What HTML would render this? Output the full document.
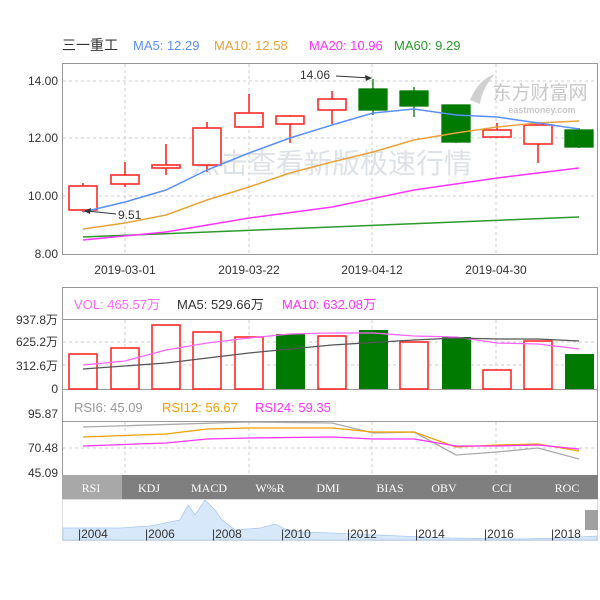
<!DOCTYPE html>
<html><head><meta charset="utf-8"><style>
html,body{margin:0;padding:0;background:#fff;}
svg{display:block;font-family:"Liberation Sans","Noto Sans CJK SC",sans-serif;}
</style></head><body>
<svg width="600" height="600" viewBox="0 0 600 600" xmlns="http://www.w3.org/2000/svg">
<rect width="600" height="600" fill="#fff"/>
<text x="62" y="50" font-size="14" fill="#333">三一重工</text>
<text x="133" y="50" font-size="13" fill="#5b8ff9">MA5: 12.29</text>
<text x="214" y="50" font-size="13" fill="#e8a33a">MA10: 12.58</text>
<text x="309" y="50" font-size="13" fill="#ff33ff">MA20: 10.96</text>
<text x="394" y="50" font-size="13" fill="#2a9a2a">MA60: 9.29</text>
<rect x="62.5" y="63.5" width="535" height="191" fill="#fff" stroke="#999"/>
<g stroke="#ccc" stroke-dasharray="3,3">
<line x1="63" y1="81" x2="597" y2="81"/><line x1="63" y1="138" x2="597" y2="138"/><line x1="63" y1="196" x2="597" y2="196"/>
<line x1="125" y1="64" x2="125" y2="254"/><line x1="249" y1="64" x2="249" y2="254"/><line x1="372" y1="64" x2="372" y2="254"/><line x1="496" y1="64" x2="496" y2="254"/>
</g>
<g font-size="12" fill="#333" text-anchor="end">
<text x="58" y="85">14.00</text><text x="58" y="142">12.00</text><text x="58" y="200">10.00</text><text x="58" y="258">8.00</text>
</g>
<g font-size="12" fill="#333" text-anchor="middle">
<text x="125" y="274">2019-03-01</text><text x="249" y="274">2019-03-22</text><text x="372" y="274">2019-04-12</text><text x="496" y="274">2019-04-30</text>
</g>
<text x="332" y="173" font-size="28" fill="#dce2e8" text-anchor="middle">点击查看新版极速行情</text>
<text x="540" y="99" font-size="19" fill="#c8c8c8" text-anchor="middle">东方财富网</text>
<text x="542" y="113" font-size="9" fill="#c8c8c8" text-anchor="middle" font-weight="bold">eastmoney.com</text>
<path d="M470 100 Q478 80 495 74 Q482 88 480 104 Z" fill="#d0d0d0"/>
<g stroke="#ff2a2a" fill="#fff" stroke-width="1.6">
<line x1="83" y1="183" x2="83" y2="212"/><rect x="69" y="186" width="28" height="24"/>
<line x1="125" y1="162" x2="125" y2="187"/><rect x="111" y="175" width="28" height="9"/>
<line x1="166" y1="144" x2="166" y2="175"/><rect x="152" y="165" width="28" height="3"/>
<line x1="207" y1="122" x2="207" y2="172"/><rect x="193" y="128" width="28" height="37"/>
<line x1="249" y1="94" x2="249" y2="127"/><rect x="235" y="113" width="28" height="14"/>
<line x1="290" y1="115" x2="290" y2="143"/><rect x="276" y="116" width="28" height="8"/>
<line x1="332" y1="91" x2="332" y2="124"/><rect x="318" y="99" width="28" height="11"/>
<line x1="497" y1="123" x2="497" y2="138"/><rect x="483" y="130" width="28" height="7"/>
<line x1="538" y1="125" x2="538" y2="163"/><rect x="524" y="125" width="28" height="19"/>
</g>
<g stroke="#007a00" fill="#007a00" stroke-width="1.3">
<line x1="373" y1="79" x2="373" y2="115"/><rect x="359" y="89" width="28" height="21"/>
<line x1="414" y1="87" x2="414" y2="117"/><rect x="400" y="91" width="28" height="15"/>
<line x1="456" y1="105" x2="456" y2="143"/><rect x="442" y="105" width="28" height="37"/>
<line x1="579" y1="128" x2="579" y2="148"/><rect x="565" y="130" width="28" height="17"/>
</g>
<polyline fill="none" stroke="#2a9a2a" stroke-width="1.5" points="83,237 579,217"/>
<polyline fill="none" stroke="#ff33ff" stroke-width="1.5" points="83,240 166,232 249,218 332,207 414,190 497,178 579,168"/>
<polyline fill="none" stroke="#e8a33a" stroke-width="1.5" points="83,229 125,223 166,215 207,200 249,187 290,173 332,162 373,152 414,140 456,133 497,127 538,123 579,121"/>
<polyline fill="none" stroke="#5b8ff9" stroke-width="1.5" points="83,212 125,202 166,190 207,170 249,153 290,138 332,125 373,113 414,109 456,115 497,117 538,123 579,129"/>
<text x="300" y="79" font-size="12" fill="#333">14.06</text>
<line x1="336" y1="76" x2="370" y2="78" stroke="#333"/><path d="M372 78 L365 75 L366 81 Z" fill="#333"/>
<text x="118" y="219" font-size="12" fill="#333">9.51</text>
<line x1="116" y1="214" x2="87" y2="211" stroke="#333"/><path d="M84 211 L91 208 L90 214 Z" fill="#333"/>
<rect x="62.5" y="287.5" width="535" height="188" fill="none" stroke="#999"/>
<line x1="63" y1="319.5" x2="597" y2="319.5" stroke="#999"/>
<line x1="63" y1="389.5" x2="597" y2="389.5" stroke="#999"/>
<line x1="63" y1="421.5" x2="597" y2="421.5" stroke="#999"/>
<text x="74" y="309" font-size="13" fill="#ff66ff">VOL: 465.57万</text>
<text x="177" y="309" font-size="13" fill="#333">MA5: 529.66万</text>
<text x="282" y="309" font-size="13" fill="#ff33ff">MA10: 632.08万</text>
<g stroke="#ccc" stroke-dasharray="3,3">
<line x1="63" y1="342" x2="597" y2="342"/><line x1="63" y1="365" x2="597" y2="365"/>
<line x1="125" y1="320" x2="125" y2="389"/><line x1="249" y1="320" x2="249" y2="389"/><line x1="372" y1="320" x2="372" y2="389"/><line x1="496" y1="320" x2="496" y2="389"/>
<line x1="63" y1="448" x2="597" y2="448"/>
<line x1="125" y1="422" x2="125" y2="475"/><line x1="249" y1="422" x2="249" y2="475"/><line x1="372" y1="422" x2="372" y2="475"/><line x1="496" y1="422" x2="496" y2="475"/>
</g>
<g font-size="12" fill="#333" text-anchor="end">
<text x="58" y="324">937.8万</text><text x="58" y="346">625.2万</text><text x="58" y="370">312.6万</text><text x="58" y="393">0</text>
<text x="58" y="418">95.87</text><text x="58" y="452">70.48</text><text x="58" y="477">45.09</text>
</g>
<g stroke="#ff2a2a" fill="#fff" stroke-width="1.6">
<rect x="69" y="354" width="28" height="35"/><rect x="111" y="348" width="28" height="41"/><rect x="152" y="325" width="28" height="64"/>
<rect x="193" y="332" width="28" height="57"/><rect x="235" y="337" width="28" height="52"/><rect x="318" y="336" width="28" height="53"/>
<rect x="400" y="342" width="28" height="47"/><rect x="483" y="370" width="28" height="19"/><rect x="524" y="341" width="28" height="48"/>
</g>
<g fill="#007a00">
<rect x="276" y="334" width="29" height="55"/><rect x="359" y="330" width="29" height="59"/><rect x="442" y="337" width="29" height="52"/><rect x="565" y="354" width="29" height="35"/>
</g>
<polyline fill="none" stroke="#ff66ff" stroke-width="1.3" points="83,365 125,361 166,350 207,343 249,338 290,334 332,333 373,333 414,336 456,337 497,343 538,344 579,349"/>
<polyline fill="none" stroke="#555" stroke-width="1.3" points="83,369 166,363 249,353 332,345 414,340 456,338 497,339 538,339 579,341"/>
<text x="74" y="412" font-size="13" fill="#999">RSI6: 45.09</text>
<text x="162" y="412" font-size="13" fill="#f0a000">RSI12: 56.67</text>
<text x="255" y="412" font-size="13" fill="#ff33ff">RSI24: 59.35</text>
<polyline fill="none" stroke="#aaa" stroke-width="1.3" points="83,427 249,422 332,423 373,433 414,432 456,455 497,452 538,448 579,459"/>
<polyline fill="none" stroke="#f0a000" stroke-width="1.3" points="83,437 166,434 207,429 249,428 332,428 373,432 414,432 456,447 497,445 538,444 579,451"/>
<polyline fill="none" stroke="#ff33ff" stroke-width="1.3" points="83,446 166,443 207,439 249,438 332,437 373,439 414,439 456,446 497,446 538,445 579,449"/>
<rect x="62" y="475" width="536" height="24" fill="#7f7f7f"/>
<rect x="62" y="475" width="60" height="24" fill="#a8a8a8"/>
<g font-family="Liberation Serif,serif" font-size="12" fill="#fff" text-anchor="middle">
<text x="91" y="492">RSI</text><text x="149" y="492">KDJ</text><text x="209" y="492">MACD</text><text x="270" y="492">W%R</text><text x="328" y="492">DMI</text><text x="390" y="492">BIAS</text><text x="444" y="492">OBV</text><text x="502" y="492">CCI</text><text x="567" y="492">ROC</text>
</g>
<rect x="62.5" y="499.5" width="535" height="41" fill="#fff" stroke="#ddd"/>
<path d="M63 528 L120 528 L150 526 L180 520 L188 505 L195 515 L205 500 L215 510 L222 520 L235 530 L260 528 L275 524 L285 529 L300 532 L330 533 L400 536 L450 538 L520 539 L560 538 L597 536 L597 540 L63 540 Z" fill="#d8e8fb" stroke="#a9c9f0" stroke-width="0.8"/>
<g font-size="12" fill="#333">
<text x="78" y="538">|2004</text><text x="145" y="538">|2006</text><text x="212" y="538">|2008</text><text x="281" y="538">|2010</text><text x="347" y="538">|2012</text><text x="415" y="538">|2014</text><text x="484" y="538">|2016</text><text x="551" y="538">|2018</text>
</g>
<rect x="585" y="510" width="13" height="20" fill="#a0a0a0"/>
</svg>
</body></html>
